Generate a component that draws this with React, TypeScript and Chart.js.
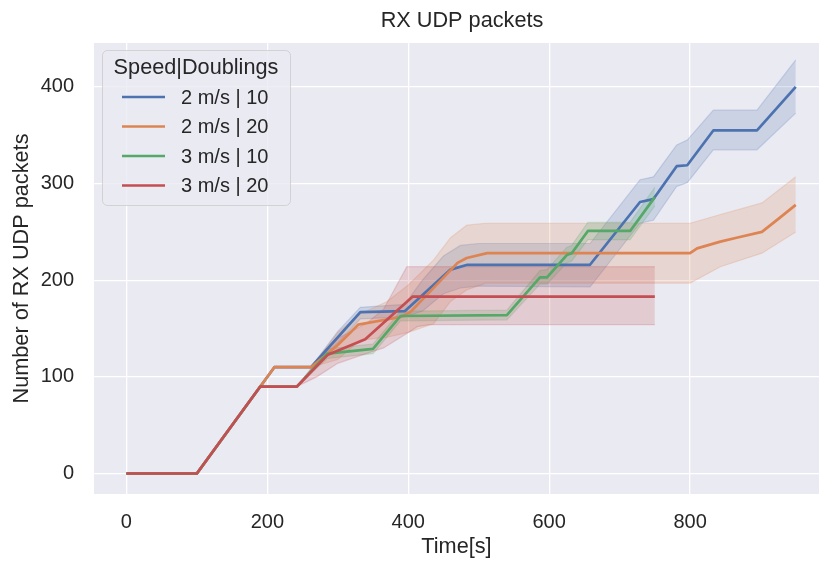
import React, { useEffect, useRef } from "react";
import { Chart, registerables } from "chart.js";

Chart.register(...registerables);

// ---- text ----
const chartTitle = "RX UDP packets";
const xTitle = "Time[s]";
const yTitle = "Number of RX UDP packets";
const legendTitle = "Speed|Doublings";
const seriesNames = ["2 m/s | 10", "2 m/s | 20", "3 m/s | 10", "3 m/s | 20"];

// ---- ticks ----
const xTicks = [0, 200, 400, 600, 800];
const yTicks = [0, 100, 200, 300, 400];

// ---- 2 m/s | 10 ----
const blueT = [0, 100, 210, 262, 332, 395, 460, 484, 658, 729, 748, 781, 796, 833, 895, 950];
const blueV = [0, 0, 110, 110, 167, 168, 211, 216, 216, 281, 284, 318, 319, 355, 355, 400];
const blueBandT = [0, 100, 210, 262, 300, 332, 395, 420, 450, 474, 500, 658, 729, 748, 781, 796, 833, 895, 950];
const blueLo = [0, 0, 110, 110, 135, 160, 162, 168, 186, 192, 194, 193, 259, 262, 297, 301, 335, 335, 373];
const blueHi = [0, 0, 110, 110, 147, 172, 175, 200, 225, 236, 238, 238, 304, 307, 340, 345, 376, 376, 428];

// ---- 2 m/s | 20 ----
const orangeT = [0, 100, 210, 262, 300, 329, 389, 403, 470, 483, 512, 800, 810, 843, 866, 902, 928, 950];
const orangeV = [0, 0, 110, 110, 133, 154, 162, 167, 218, 223, 228, 228, 233, 240, 244, 250, 265, 278];
const orangeBandT = [0, 100, 210, 262, 300, 332, 370, 400, 436, 460, 483, 510, 800, 843, 902, 950];
const orangeLo = [0, 0, 110, 110, 118, 138, 141, 146, 155, 178, 190, 197, 197, 214, 228, 250];
const orangeHi = [0, 0, 110, 110, 146, 165, 178, 195, 221, 244, 257, 259, 259, 268, 280, 307];

// ---- 3 m/s | 10 ----
const greenT = [0, 100, 190, 242, 285, 350, 389, 540, 587, 597, 625, 632, 655, 715, 750];
const greenV = [0, 0, 90, 90, 124, 129, 163, 164, 203, 203, 226, 228, 251, 251, 286];
const greenLo = [0, 0, 90, 90, 119, 124, 158, 159, 196, 196, 218, 220, 242, 242, 277];
const greenHi = [0, 0, 90, 90, 129, 134, 168, 169, 210, 211, 234, 236, 260, 260, 296];

// ---- 3 m/s | 20 ----
const redT = [0, 100, 190, 242, 286, 339, 406, 750];
const redV = [0, 0, 90, 90, 123, 139, 183, 183];
const redBandT = [0, 100, 190, 242, 270, 300, 340, 365, 398, 413, 430, 750];
const redLo = [0, 0, 90, 90, 100, 114, 124, 130, 145, 152, 154, 154];
const redHi = [0, 0, 90, 90, 116, 140, 155, 170, 214, 214, 214, 214];

const COLORS = ["#4C72B0", "#DD8452", "#55A868", "#C44E52"];
const RGB = ["76,114,176", "221,132,82", "85,168,104", "196,78,82"];
const TEXT = "#262626";
const FONT = "'Liberation Sans', Arial, Helvetica, sans-serif";

const pts = (t: number[], v: number[]) => t.map((x, i) => ({ x, y: v[i] }));

const bgPlugin = {
  id: "bgArea",
  beforeDraw(chart: any) {
    const { ctx, chartArea } = chart;
    ctx.save();
    ctx.fillStyle = "#EAEAF2";
    ctx.fillRect(chartArea.left, chartArea.top, chartArea.right - chartArea.left, chartArea.bottom - chartArea.top);
    ctx.restore();
  },
};

const overlayPlugin = {
  id: "overlay",
  afterDraw(chart: any) {
    const { ctx } = chart;
    ctx.save();
    // title
    ctx.fillStyle = TEXT;
    ctx.font = `21.7px ${FONT}`;
    ctx.textAlign = "center";
    ctx.textBaseline = "middle";
    ctx.fillText(chartTitle, 462, 21);

    // legend box
    const bx = 102.5, by = 50.5, bw = 188, bh = 155;
    ctx.beginPath();
    (ctx as any).roundRect(bx, by, bw, bh, 5);
    ctx.fillStyle = "rgba(234,234,242,0.8)";
    ctx.fill();
    ctx.strokeStyle = "rgba(204,204,204,0.8)";
    ctx.lineWidth = 1;
    ctx.stroke();

    ctx.fillStyle = TEXT;
    ctx.font = `21.7px ${FONT}`;
    ctx.textAlign = "center";
    ctx.fillText(legendTitle, 196, 68);

    ctx.font = `20px ${FONT}`;
    ctx.textAlign = "left";
    seriesNames.forEach((name, i) => {
      const y = 97 + i * 29.5;
      ctx.beginPath();
      ctx.moveTo(122, y);
      ctx.lineTo(165, y);
      ctx.strokeStyle = COLORS[i];
      ctx.lineWidth = 2.7;
      ctx.stroke();
      ctx.fillStyle = TEXT;
      ctx.fillText(name, 181, y + 1);
    });
    ctx.restore();
  },
};

export default function App() {
  const ref = useRef<HTMLCanvasElement | null>(null);

  useEffect(() => {
    document.body.style.margin = "0";
    const canvas = ref.current;
    if (!canvas) return;

    const bands = [
      [blueBandT, blueLo, blueHi],
      [orangeBandT, orangeLo, orangeHi],
      [greenT, greenLo, greenHi],
      [redBandT, redLo, redHi],
    ];
    const lines = [
      [blueT, blueV],
      [orangeT, orangeV],
      [greenT, greenV],
      [redT, redV],
    ];

    const datasets: any[] = [];
    bands.forEach(([t, lo, hi], i) => {
      datasets.push({
        label: seriesNames[i] + " hi",
        data: pts(t, hi),
        borderColor: `rgba(${RGB[i]},0.22)`,
        backgroundColor: `rgba(${RGB[i]},0.2)`,
        borderWidth: 1.2,
        pointRadius: 0,
        fill: "+1",
        tension: 0,
      });
      datasets.push({
        label: seriesNames[i] + " lo",
        data: pts(t, lo),
        borderColor: `rgba(${RGB[i]},0.22)`,
        backgroundColor: "transparent",
        borderWidth: 1.2,
        pointRadius: 0,
        fill: false,
        tension: 0,
      });
    });
    lines.forEach(([t, v], i) => {
      datasets.push({
        label: seriesNames[i],
        data: pts(t, v),
        borderColor: COLORS[i],
        backgroundColor: COLORS[i],
        borderWidth: 2.7,
        pointRadius: 0,
        fill: false,
        tension: 0,
        borderJoinStyle: "round",
      });
    });
    datasets.forEach((d, k) => (d.order = 100 - k));

    const chart = new Chart(canvas, {
      type: "line",
      data: { datasets },
      plugins: [bgPlugin, overlayPlugin],
      options: {
        responsive: false,
        animation: false,
        events: [],
        layout: { padding: { top: 43, left: 0, right: 0, bottom: 0 } },
        plugins: { legend: { display: false }, tooltip: { enabled: false }, title: { display: false } },
        scales: {
          x: {
            type: "linear",
            min: -46,
            max: 983,
            afterBuildTicks: (s: any) => {
              s.ticks = xTicks.map((value) => ({ value }));
            },
            afterFit: (s: any) => {
              s.height = 69;
            },
            ticks: {
              color: TEXT,
              font: { size: 20, family: FONT },
              padding: 16,
              maxRotation: 0,
              autoSkip: false,
              callback: (v: any) => String(v),
            },
            grid: { color: "#ffffff", lineWidth: 1.3, drawTicks: false },
            border: { display: false },
            title: {
              display: true,
              text: xTitle,
              color: TEXT,
              font: { size: 21.7, family: FONT },
              padding: { top: 0, bottom: 3 },
            },
          },
          y: {
            type: "linear",
            min: -21.2,
            max: 445.5,
            afterBuildTicks: (s: any) => {
              s.ticks = yTicks.map((value) => ({ value }));
            },
            afterFit: (s: any) => {
              s.width = 94;
            },
            ticks: {
              color: TEXT,
              font: { size: 20, family: FONT },
              padding: 20,
              autoSkip: false,
              callback: (v: any) => String(v),
            },
            grid: { color: "#ffffff", lineWidth: 1.3, drawTicks: false },
            border: { display: false },
            title: {
              display: true,
              text: yTitle,
              color: TEXT,
              font: { size: 21.7, family: FONT },
              padding: { top: 9, bottom: 0 },
            },
          },
        },
      },
    } as any);

    return () => chart.destroy();
  }, []);

  return <canvas ref={ref} width={819} height={563} style={{ display: "block" }} />;
}
